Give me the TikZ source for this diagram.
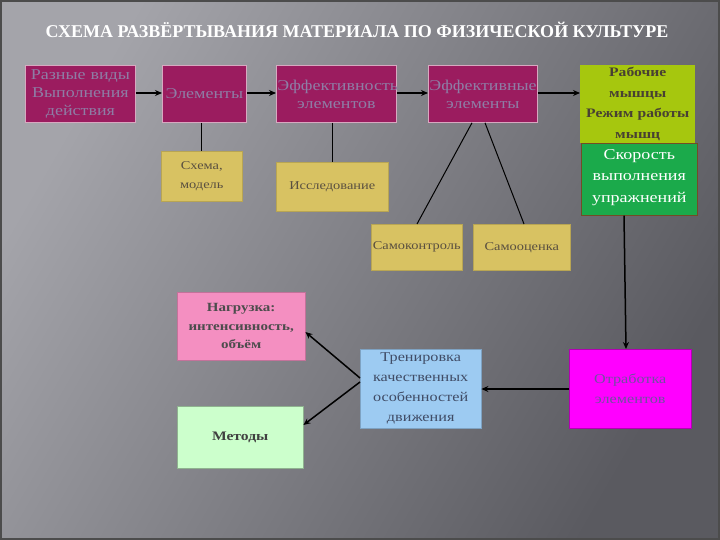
\documentclass[tikz,border=0pt]{standalone}
\usepackage{fontspec}
\setmainfont{Liberation Serif}
\newfontfamily\wide[FakeStretch=1.2]{Liberation Serif}
\usetikzlibrary{arrows.meta}
\definecolor{bgA}{HTML}{A4A4AA}
\definecolor{bgB}{HTML}{5A5A60}
\definecolor{magf}{HTML}{9B1C5F}
\definecolor{magd}{HTML}{D8A8C0}
\definecolor{magt}{HTML}{8E7DA5}
\definecolor{yelf}{HTML}{D8C262}
\definecolor{yelt}{HTML}{5A5040}
\definecolor{ygf}{HTML}{A6C70E}
\definecolor{grf}{HTML}{1BAA4B}
\definecolor{pkf}{HTML}{F48FC1}
\definecolor{lgf}{HTML}{CCFFCC}
\definecolor{lbf}{HTML}{9DCBF2}
\definecolor{lbt}{HTML}{404C66}
\definecolor{mbf}{HTML}{FF00FF}
\definecolor{mbt}{HTML}{7050A0}
\tikzset{
  base/.style={align=center, inner sep=1pt, anchor=north west},
  magbox/.style={base, fill=magf, draw=magd, line width=0.8pt, text=magt, font=\wide\fontsize{15}{18}\selectfont},
  yelbox/.style={base, fill=yelf, draw=yelf!85!black, line width=0.5pt, text=yelt, font=\wide\fontsize{12}{19}\selectfont},
  arr/.style={-{Stealth[length=7pt,width=6pt]}, line width=1.5pt, black},
  ln/.style={line width=1pt, black},
}
\begin{document}
\begin{tikzpicture}[x=1pt,y=-1pt]
\useasboundingbox (0,0) rectangle (720,540);
\shade[shading=axis, left color=bgA, right color=bgB, shading angle=60] (0,0) rectangle (720,540);
\draw[line width=2pt, black!70] (1,1) rectangle (719,539);
\node[font=\bfseries\fontsize{18}{20}\selectfont, text=white] (title) at (357,30) {СХЕМА РАЗВЁРТЫВАНИЯ МАТЕРИАЛА ПО ФИЗИЧЕСКОЙ КУЛЬТУРЕ};

\node[magbox, minimum width=108, minimum height=57, text width=108] (b1) at (25,65) {Разные виды\\Выполнения\\ действия};
\node[magbox, minimum width=84, minimum height=57] (b2) at (162,65) {Элементы};
\node[magbox, minimum width=118, minimum height=57, text width=118] (b3) at (276,65) {Эффективность\\элементов\\[14pt]};
\node[magbox, minimum width=107, minimum height=57, text width=107] (b4) at (428,65) {Эффективные\\элементы\\[14pt]};
\node[base, fill=ygf, minimum width=115, minimum height=78, text width=113, text=yelt!80!black, font=\wide\bfseries\fontsize{13}{20.5}\selectfont] (b5) at (580,65) {\\[-12pt]Рабочие\\мышцы\\Режим работы\\мышц};
\node[base, fill=grf, draw=brown!60!black, line width=0.6pt, minimum width=114, minimum height=72, text width=114, text=white, font=\wide\fontsize{15}{21.5}\selectfont] (b6) at (581,143) {\\[-15pt]Скорость\\выполнения\\упражнений};

\node[yelbox, minimum width=79, minimum height=50, text width=79] (s1) at (161,151) {Схема,\\модель};
\node[yelbox, minimum width=112, minimum height=49] (s2) at (276,162) {Исследование};
\node[yelbox, minimum width=91, minimum height=46] (s3) at (371,224) {Самоконтроль};
\node[yelbox, minimum width=97, minimum height=46] (s4) at (473,224) {Самооценка};

\node[base, fill=pkf, draw=pkf!80!black, line width=0.4pt, minimum width=126, minimum height=68, text width=126, text=black!70, font=\wide\bfseries\fontsize{12.5}{18.5}\selectfont] (n1) at (177,292) {Нагрузка:\\интенсивность,\\объём};
\node[base, fill=lgf, draw=lgf!70!black, line width=0.4pt, minimum width=126, minimum height=62, text=black!75, font=\wide\bfseries\fontsize{13}{16}\selectfont] (n2) at (177,406) {Методы};
\node[base, fill=lbf, draw=lbf!80!black, line width=0.4pt, minimum width=119, minimum height=79, text width=119, text=lbt, font=\wide\fontsize{13.5}{20}\selectfont] (n3) at (360,349) {Тренировка\\качественных\\особенностей\\движения};
\node[base, fill=mbf, draw=mbf!70!black, line width=0.4pt, minimum width=120, minimum height=79, text width=120, text=mbt, font=\wide\fontsize{13.5}{20}\selectfont] (n4) at (569,349) {Отработка\\элементов};

\draw[arr] (b1.east |- 0,93) -- (b2.west |- 0,93);
\draw[arr] (b2.east |- 0,93) -- (b3.west |- 0,93);
\draw[arr] (b3.east |- 0,93) -- (b4.west |- 0,93);
\draw[arr] (b4.east |- 0,93) -- (b5.west |- 0,93);
\draw[ln] (b2.south -| 201,0) -- (s1.north -| 201,0);
\draw[ln] (b3.south -| 332,0) -- (s2.north -| 332,0);
\draw[ln] (b4.south -| 472,0) -- (s3.north -| 417,0);
\draw[ln] (b4.south -| 485,0) -- (s4.north -| 524,0);
\draw[arr] (b6.south -| 624,0) -- (n4.north -| 626,0);
\draw[arr] (n4.west |- 0,389) -- (n3.east |- 0,389);
\draw[arr] (n3.west |- 0,378) -- (n1.east |- 0,332);
\draw[arr] (n3.west |- 0,382) -- (n2.east |- 0,425);
\end{tikzpicture}
\end{document}
